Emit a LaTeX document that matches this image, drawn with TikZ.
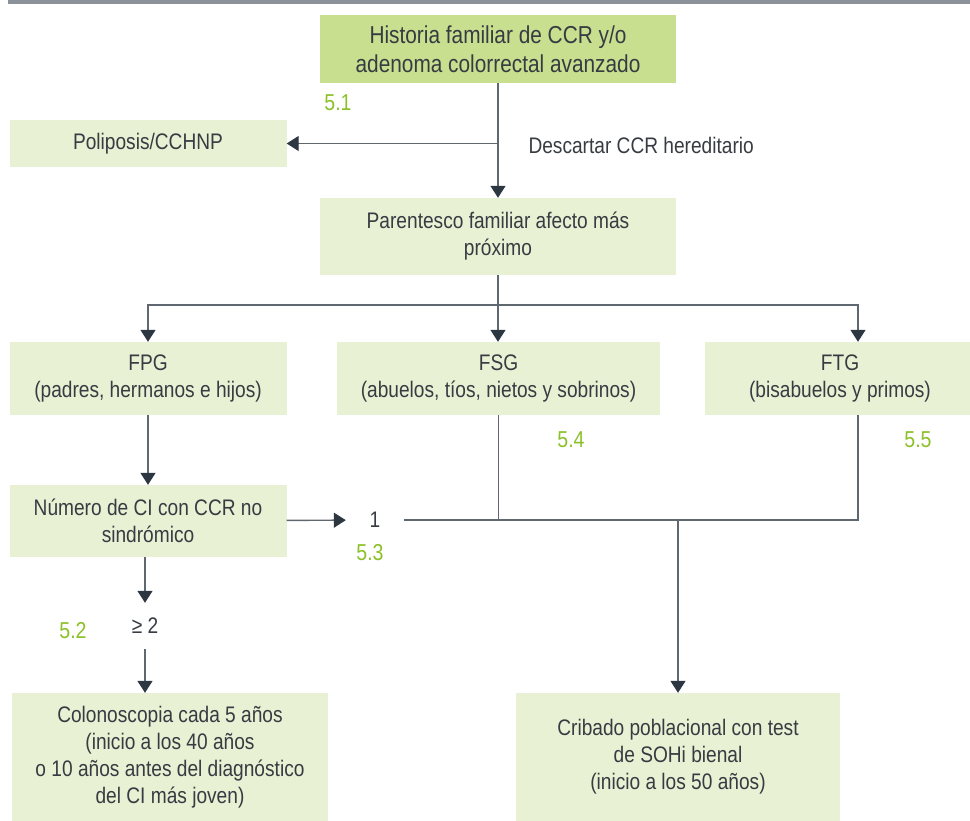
\documentclass[tikz,border=0pt]{standalone}
\usepackage{fontspec}
\setmainfont{Liberation Sans}[FakeStretch=0.85]
\usepackage{tikz}
\usetikzlibrary{arrows.meta,positioning}
\definecolor{boxdark}{RGB}{200,223,143}
\definecolor{boxlight}{RGB}{232,241,212}
\definecolor{txtc}{RGB}{55,60,66}
\definecolor{numc}{RGB}{140,192,40}
\definecolor{linec}{RGB}{95,103,112}
\definecolor{tipc}{RGB}{45,55,65}
\definecolor{barc}{RGB}{140,146,153}

\begin{document}
\begin{tikzpicture}[x=1pt,y=-1pt,
  txt/.style={text=txtc, font=\fontsize{22.5}{27}\selectfont},
  box/.style={txt, fill=boxlight, align=center, inner sep=0pt},
  secnum/.style={text=numc, font=\fontsize{23}{27}\selectfont},
  link/.style={draw=linec, line width=1.4pt},
  arr/.style={link, -{Triangle[width=15pt,length=12pt,color=tipc]}}
]
\useasboundingbox (0,0) rectangle (970,820);
\fill[barc] (8,0) rectangle (970,4);

% boxes
\node[box, fill=boxdark, minimum width=356pt, minimum height=68pt, font=\fontsize{24.5}{29}\selectfont] (hist) at (498,49) {Historia familiar de CCR y/o\\adenoma colorrectal avanzado};
\node[box, minimum width=277pt, minimum height=47pt] (poli) at (148,143.5) {Poliposis/CCHNP};
\node[txt, anchor=west] (desc) at (525,145) {Descartar CCR hereditario};
\node[box, minimum width=356pt, minimum height=77pt] (paren) at (498,236.5) {Parentesco familiar afecto más\\próximo};
\coordinate (split) at (498,305);
\node[box, minimum width=277pt, minimum height=73pt] (fpg) at (148,378.5) {FPG\\(padres, hermanos e hijos)};
\node[box, minimum width=323pt, minimum height=73pt] (fsg) at (498.5,378.5) {FSG\\(abuelos, tíos, nietos y sobrinos)};
\node[box, minimum width=270pt, minimum height=73pt] (ftg) at (840,378.5) {FTG\\(bisabuelos y primos)};
\node[box, minimum width=277pt, minimum height=72pt] (ncl) at (148,521) {Número de CI con CCR no\\sindrómico};
\node[txt, inner sep=0pt, minimum width=58pt] (one) at (375,520) {1};
\node[txt, inner sep=0pt, minimum height=46pt] (ge) at (145,626) {≥ 2};
\node[box, minimum width=316pt, minimum height=128pt] (colo) at (170,757) {Colonoscopia cada 5 años\\(inicio a los 40 años\\o 10 años antes del diagnóstico\\del CI más joven)};
\node[box, minimum width=324pt, minimum height=128pt] (crib) at (678,757) {Cribado poblacional con test\\de SOHi bienal\\(inicio a los 50 años)};

% section numbers
\node[secnum] (n51) at (338,103) {5.1};
\node[secnum] (n52) at (73,631) {5.2};
\node[secnum] (n53) at (370,553) {5.3};
\node[secnum] (n54) at (571,440) {5.4};
\node[secnum] (n55) at (918,440) {5.5};

% connectors
\draw[arr] (hist) -- (paren);
\draw[arr] (hist.south |- poli) -- (poli);
\draw[link] (paren) -- (split);
\draw[arr] (split) -| (fpg);
\draw[arr] (split) -- (split |- fsg.north);
\draw[arr] (split) -| ([xshift=18pt]ftg.north);
\draw[arr] (fpg) -- (ncl);
\draw[arr] (ncl) -- (one);
\draw[link] (fsg.south) |- (one.east);
\draw[link] ([xshift=18pt]ftg.south) |- (one.east);
\draw[arr] (crib.north |- one) -- (crib);
\draw[arr] (ncl.south -| ge) -- (ge.north);
\draw[arr] (ge.south) -- (ge.south |- colo.north);
\end{tikzpicture}
\end{document}
